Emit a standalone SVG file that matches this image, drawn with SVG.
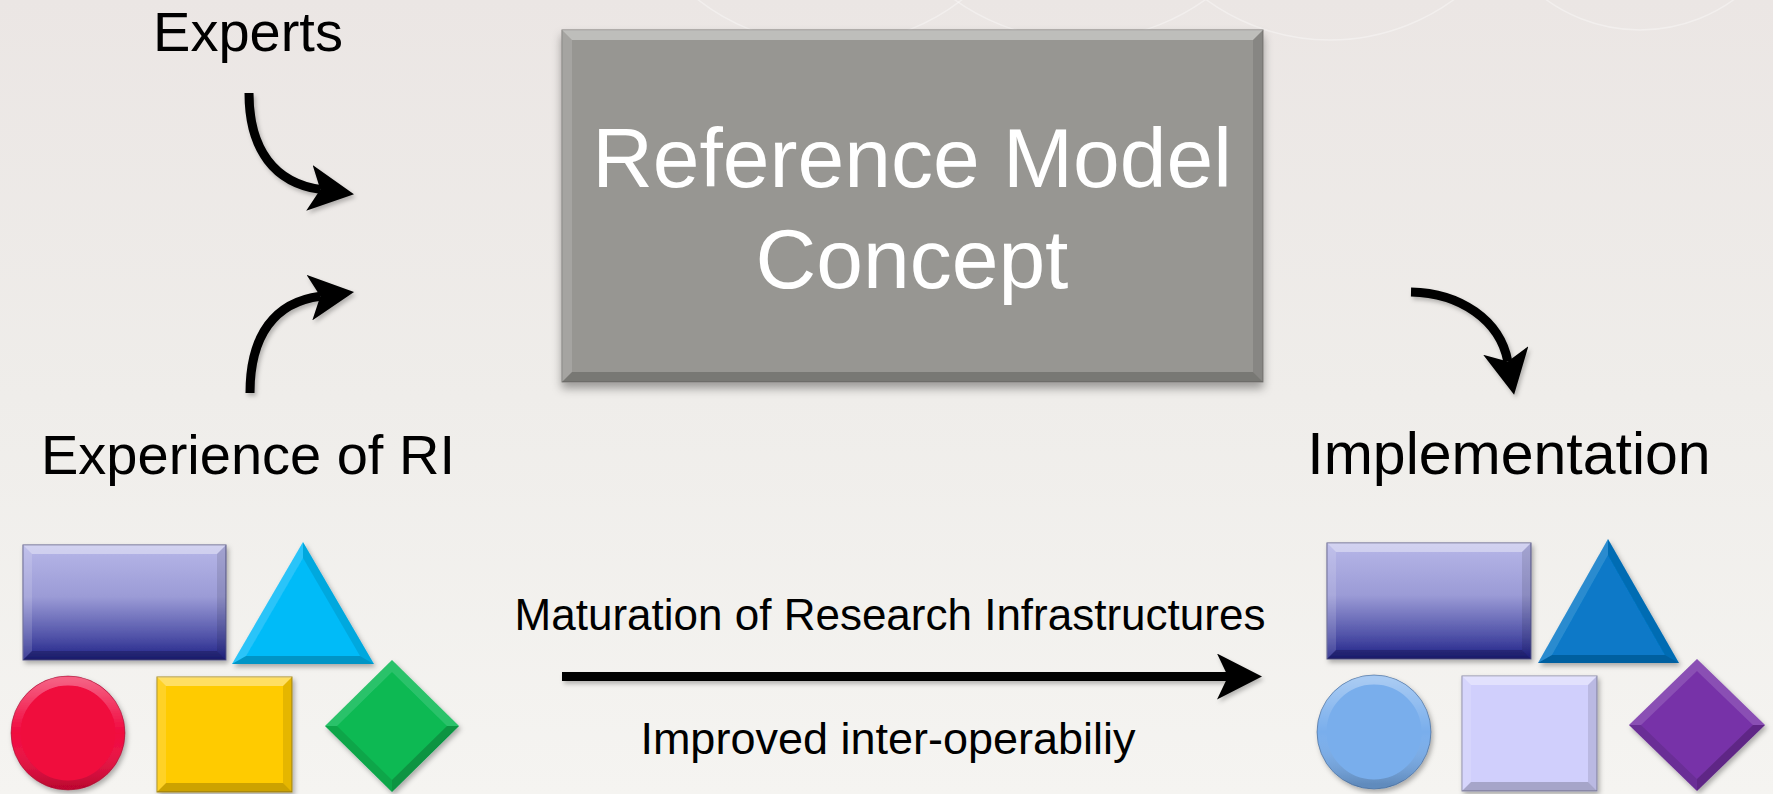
<svg xmlns="http://www.w3.org/2000/svg" width="1773" height="794" viewBox="0 0 1773 794">
  <defs>
    <linearGradient id="bg" x1="0" y1="0" x2="0" y2="1">
      <stop offset="0" stop-color="#ebe6e4"/>
      <stop offset="0.5" stop-color="#efedea"/>
      <stop offset="1" stop-color="#f5f4f1"/>
    </linearGradient>
    <linearGradient id="blueGrad" x1="0" y1="0" x2="0" y2="1">
      <stop offset="0" stop-color="#b7b7e8"/>
      <stop offset="0.45" stop-color="#9b9bd6"/>
      <stop offset="0.8" stop-color="#5052a8"/>
      <stop offset="1" stop-color="#1f2186"/>
    </linearGradient>
    <linearGradient id="ring" x1="0" y1="0" x2="0" y2="1">
      <stop offset="0" stop-color="#ffffff" stop-opacity="0.35"/>
      <stop offset="0.5" stop-color="#ffffff" stop-opacity="0"/>
      <stop offset="1" stop-color="#000000" stop-opacity="0.2"/>
    </linearGradient>
    <filter id="ds" x="-20%" y="-20%" width="140%" height="140%">
      <feDropShadow dx="2" dy="3" stdDeviation="2.5" flood-color="#000" flood-opacity="0.3"/>
    </filter>
    <filter id="boxShadow" x="-10%" y="-10%" width="120%" height="125%">
      <feDropShadow dx="0" dy="6" stdDeviation="5" flood-color="#000" flood-opacity="0.35"/>
    </filter>
    <filter id="arrowShadow" x="-20%" y="-20%" width="140%" height="140%">
      <feDropShadow dx="2" dy="3" stdDeviation="2" flood-color="#000" flood-opacity="0.25"/>
    </filter>
    <marker id="head" markerUnits="userSpaceOnUse" viewBox="0 0 46 46" refX="11" refY="23" markerWidth="46" markerHeight="46" orient="auto">
      <path d="M0,0 L45,23 L0,46 L11,23 Z" fill="#000"/>
    </marker>
  </defs>
  <style>
    .lbl { font-family: "Liberation Sans", Arial, sans-serif; fill: #000; text-anchor: middle; }
    .big { font-family: "Liberation Sans", Arial, sans-serif; fill: #fff; text-anchor: middle; font-size: 84px; }
    .conn { fill: none; stroke: #000; stroke-width: 9; marker-end: url(#head); }
    .hl { fill: #fff; fill-opacity: 0.38; }
    .hl2 { fill: #fff; fill-opacity: 0.14; }
    .sh { fill: #000; fill-opacity: 0.1; }
    .sh2 { fill: #000; fill-opacity: 0.2; }
    .arc { fill: none; stroke: #fff; stroke-opacity: 0.35; stroke-width: 1.5; }
  </style>

  <rect x="0" y="0" width="1773" height="794" fill="url(#bg)"/>
  <g id="decoration">
    <circle class="arc" cx="830" cy="-170" r="215"/>
    <circle class="arc" cx="1080" cy="-175" r="215"/>
    <circle class="arc" cx="1330" cy="-170" r="210"/>
    <circle class="arc" cx="1640" cy="-130" r="160"/>
  </g>

  <g id="experts">
    <text class="lbl" x="248" y="51" font-size="56">Experts</text>
  </g>
  <g id="experience">
    <text class="lbl" x="248" y="474" font-size="56">Experience of RI</text>
  </g>
  <g id="implementation">
    <text class="lbl" x="1509" y="474" font-size="59">Implementation</text>
  </g>

  <g id="reference-model">
    <rect x="562" y="30" width="701" height="352" fill="#979692" stroke="#7a7976" stroke-width="1" filter="url(#boxShadow)"/>
    <polygon class="hl" points="562,30 1263,30 1253,40 572,40"/>
    <polygon class="hl2" points="562,30 572,40 572,372 562,382"/>
    <polygon class="sh" points="1263,30 1263,382 1253,372 1253,40"/>
    <polygon class="sh2" points="562,382 1263,382 1253,372 572,372"/>
    <text class="big" x="912" y="187">Reference Model</text>
    <text class="big" x="912" y="288">Concept</text>
  </g>

  <g id="maturation-label">
    <text class="lbl" x="890" y="630" font-size="44">Maturation of Research Infrastructures</text>
  </g>
  <g id="interop-label">
    <text class="lbl" x="888" y="754" font-size="45">Improved inter-operabiliy</text>
  </g>

  <g id="connectors" filter="url(#arrowShadow)">
    <path class="conn" d="M249,93 C249,150 275,183 320.3,189.4"/>
    <path class="conn" d="M250,393 C250,335 275,302 320.3,296.2"/>
    <path class="conn" d="M1411,292 C1460,293 1500,320 1507.8,361.4"/>
    <path class="conn" d="M562,676.5 L1228,676.5"/>
  </g>

  <g id="shapes-before">
    <g id="blue-rect-left" filter="url(#ds)">
      <rect x="23" y="545" width="203" height="115" fill="url(#blueGrad)" stroke="#5a5a8a" stroke-width="1"/>
      <polygon class="hl" points="23,545 226,545 217,554 32,554"/>
      <polygon class="hl2" points="23,545 32,554 32,651 23,660"/>
      <polygon class="sh" points="226,545 226,660 217,651 217,554"/>
      <polygon class="sh2" points="23,660 226,660 217,651 32,651"/>
    </g>
    <g id="triangle-left" filter="url(#ds)">
      <polygon points="303,542 232,664 374,664" fill="#06bbf8"/>
      <polygon class="hl2" points="303,542 232,664 246,656 303,558"/>
      <polygon class="sh" points="303,542 374,664 360,656 303,558"/>
      <polygon class="sh2" points="232,664 374,664 360,656 246,656"/>
    </g>
    <g id="circle-left" filter="url(#ds)">
      <circle cx="68" cy="733" r="57" fill="#f0083e" stroke="#8a1030" stroke-opacity="0.5" stroke-width="1"/>
      <circle cx="68" cy="733" r="52" fill="none" stroke="url(#ring)" stroke-width="9"/>
    </g>
    <g id="square-left" filter="url(#ds)">
      <rect x="157" y="677" width="135" height="115" fill="#ffcb05" stroke="#a88a10" stroke-width="1"/>
      <polygon class="hl" points="157,677 292,677 283,686 166,686"/>
      <polygon class="hl2" points="157,677 166,686 166,783 157,792"/>
      <polygon class="sh" points="292,677 292,792 283,783 283,686"/>
      <polygon class="sh2" points="157,792 292,792 283,783 166,783"/>
    </g>
    <g id="diamond-left" filter="url(#ds)">
      <polygon points="392,660 325,726 392,792 459,726" fill="#09b953"/>
      <polygon class="hl2" points="392,660 325,726 337,726 392,672"/>
      <polygon class="hl2" points="392,660 459,726 447,726 392,672"/>
      <polygon class="sh" points="325,726 392,792 392,780 337,726"/>
      <polygon class="sh2" points="459,726 392,792 392,780 447,726"/>
    </g>
  </g>

  <g id="shapes-after">
    <g id="blue-rect-right" filter="url(#ds)">
      <rect x="1327" y="543" width="204" height="116" fill="url(#blueGrad)" stroke="#5a5a8a" stroke-width="1"/>
      <polygon class="hl" points="1327,543 1531,543 1522,552 1336,552"/>
      <polygon class="hl2" points="1327,543 1336,552 1336,650 1327,659"/>
      <polygon class="sh" points="1531,543 1531,659 1522,650 1522,552"/>
      <polygon class="sh2" points="1327,659 1531,659 1522,650 1336,650"/>
    </g>
    <g id="triangle-right" filter="url(#ds)">
      <polygon points="1608,539 1538,663 1679,663" fill="#0779c8"/>
      <polygon class="hl2" points="1608,539 1538,663 1552,655 1608,555"/>
      <polygon class="sh" points="1608,539 1679,663 1665,655 1608,555"/>
      <polygon class="sh2" points="1538,663 1679,663 1665,655 1552,655"/>
    </g>
    <g id="circle-right" filter="url(#ds)">
      <circle cx="1374" cy="732" r="57" fill="#79aeec" stroke="#3d5f8a" stroke-opacity="0.6" stroke-width="1"/>
      <circle cx="1374" cy="732" r="52" fill="none" stroke="url(#ring)" stroke-width="9"/>
    </g>
    <g id="square-right" filter="url(#ds)">
      <rect x="1462" y="676" width="135" height="115" fill="#d0cffc" stroke="#8a89a8" stroke-width="1"/>
      <polygon class="hl" points="1462,676 1597,676 1588,685 1471,685"/>
      <polygon class="hl2" points="1462,676 1471,685 1471,782 1462,791"/>
      <polygon class="sh" points="1597,676 1597,791 1588,782 1588,685"/>
      <polygon class="sh2" points="1462,791 1597,791 1588,782 1471,782"/>
    </g>
    <g id="diamond-right" filter="url(#ds)">
      <polygon points="1697,659 1629,725 1697,791 1765,725" fill="#7733a8"/>
      <polygon class="hl2" points="1697,659 1629,725 1641,725 1697,671"/>
      <polygon class="hl2" points="1697,659 1765,725 1753,725 1697,671"/>
      <polygon class="sh" points="1629,725 1697,791 1697,779 1641,725"/>
      <polygon class="sh2" points="1765,725 1697,791 1697,779 1753,725"/>
    </g>
  </g>
</svg>
